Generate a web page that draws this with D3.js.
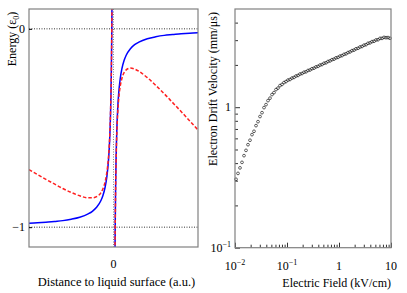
<!DOCTYPE html>
<html>
<head>
<meta charset="utf-8">
<script src="https://cdn.jsdelivr.net/npm/d3@7"></script>
<style>
  body { margin: 0; background: #fff; }
  text { font-family: "Liberation Serif", "Times New Roman", serif; fill: #000; }
</style>
</head>
<body>
<svg id="chart" width="407" height="293"></svg>
<script>
(function() {

// --- left panel: potential energy near the liquid surface
const distLiquid = [-1, -0.9, -0.8, -0.7, -0.6, -0.5, -0.4, -0.3, -0.25, -0.2, -0.15, -0.125,
  -0.1, -0.08, -0.06, -0.05, -0.04, -0.03, -0.025, -0.02, -0.016];
const blueLiquid = [-0.98, -0.978, -0.975, -0.971, -0.967, -0.96, -0.95, -0.933, -0.92, -0.9,
  -0.867, -0.84, -0.8, -0.75, -0.667, -0.6, -0.5, -0.333, -0.2, 0, 0.25];
const redLiquid = [-0.71, -0.735, -0.759, -0.782, -0.805, -0.825, -0.842, -0.852, -0.852, -0.846,
  -0.827, -0.806, -0.773, -0.728, -0.651, -0.587, -0.489, -0.325, -0.193, 0.005, 0.254];

const distGas = [0.016, 0.02, 0.025, 0.03, 0.04, 0.05, 0.06, 0.08, 0.1, 0.125, 0.15, 0.2, 0.25,
  0.3, 0.4, 0.5, 0.6, 0.7, 0.8, 0.9, 1.0];
const blueGas = [-1.25, -1.0, -0.8, -0.667, -0.5, -0.4, -0.333, -0.25, -0.2, -0.16, -0.133, -0.1,
  -0.08, -0.067, -0.05, -0.04, -0.033, -0.029, -0.025, -0.022, -0.02];
const redGas = [-1.258, -1.01, -0.812, -0.682, -0.52, -0.425, -0.362, -0.289, -0.249, -0.221,
  -0.207, -0.198, -0.203, -0.214, -0.246, -0.285, -0.327, -0.372, -0.417, -0.463, -0.51];

const energyTicks = [0, -1];

// --- right panel: drift velocity vs field
const fieldKV = [0.01045, 0.01142, 0.01248, 0.01363, 0.0149, 0.01628, 0.01778, 0.01943, 0.02123,
  0.0232, 0.02535, 0.0277, 0.03026, 0.03307, 0.03613, 0.03948, 0.04313, 0.04713, 0.05149, 0.05623,
  0.06146, 0.06715, 0.07337, 0.08016, 0.08758, 0.09567, 0.1045, 0.1142, 0.1248, 0.1363, 0.149,
  0.1628, 0.1778, 0.1943, 0.2123, 0.232, 0.2535, 0.277, 0.3026, 0.3307, 0.3613, 0.3948, 0.4313,
  0.4713, 0.5149, 0.5623, 0.6146, 0.6715, 0.7337, 0.8016, 0.8758, 0.9567, 1.045, 1.142, 1.248,
  1.363, 1.49, 1.628, 1.778, 1.943, 2.123, 2.32, 2.535, 2.77, 3.026, 3.307, 3.613, 3.948, 4.313,
  4.713, 5.149, 5.623, 6.146, 6.715, 7.337, 8.016, 8.758, 9.567];
const driftVel = [0.307, 0.338, 0.37, 0.405, 0.452, 0.493, 0.541, 0.582, 0.638, 0.674, 0.739, 0.789,
  0.858, 0.914, 0.993, 1.043, 1.114, 1.16, 1.23, 1.27, 1.335, 1.368, 1.425, 1.452, 1.497, 1.522,
  1.56, 1.574, 1.612, 1.628, 1.667, 1.682, 1.722, 1.736, 1.774, 1.786, 1.826, 1.84, 1.88, 1.896,
  1.936, 1.952, 1.995, 2.011, 2.055, 2.07, 2.116, 2.135, 2.18, 2.198, 2.245, 2.262, 2.31, 2.328,
  2.378, 2.398, 2.45, 2.474, 2.528, 2.549, 2.604, 2.625, 2.683, 2.704, 2.764, 2.785, 2.85, 2.87,
  2.93, 2.945, 3.01, 3.02, 3.09, 3.09, 3.14, 3.125, 3.13, 3.095];
const fieldTicks = [0.01, 0.1, 1, 10];
const fieldTickLabels = [["10", "\u22122"], ["10", "\u22121"], ["1", ""], ["10", ""]];
const velTicks = [0.1, 1];
const velTickLabels = [["10", "\u22121"], ["1", ""]];

const svg = d3.select('#chart');
const frameColor = '#808080';

// ================= left panel =================
const L = {left: 29, right: 198, top: 9, bottom: 247};
const xDist = d3.scaleLinear().domain([-1, 1]).range([L.left, L.right]);
const yEnergy = d3.scaleLinear().domain([-1.1, 0.1]).range([L.bottom, L.top]);

svg.append('clipPath').attr('id', 'clipL')
  .append('rect')
    .attr('x', L.left).attr('y', L.top)
    .attr('width', L.right - L.left).attr('height', L.bottom - L.top);

const left = svg.append('g');

// reference lines
energyTicks.forEach(e => {
  left.append('line')
    .attr('x1', L.left).attr('x2', L.right)
    .attr('y1', yEnergy(e)).attr('y2', yEnergy(e))
    .attr('stroke', '#000').attr('stroke-width', 0.8)
    .attr('stroke-dasharray', '1,1.5');
});
left.append('line')
  .attr('x1', xDist(0)).attr('x2', xDist(0))
  .attr('y1', L.top).attr('y2', L.bottom)
  .attr('stroke', '#666').attr('stroke-width', 0.8)
  .attr('stroke-dasharray', '1,1.5');

const line = d3.line()
  .x(d => xDist(d[0]))
  .y(d => yEnergy(d[1]))
  .curve(d3.curveMonotoneX);

const curves = left.append('g').attr('clip-path', 'url(#clipL)');
[[distLiquid, blueLiquid], [distGas, blueGas]].forEach(([xs, ys]) => {
  curves.append('path')
    .datum(xs.map((x, i) => [x, ys[i]]))
    .attr('d', line)
    .attr('fill', 'none')
    .attr('stroke', '#0000ff')
    .attr('stroke-width', 1.5);
});
[[distLiquid, redLiquid], [distGas, redGas]].forEach(([xs, ys]) => {
  curves.append('path')
    .datum(xs.map((x, i) => [x, ys[i]]))
    .attr('d', line)
    .attr('fill', 'none')
    .attr('stroke', '#ff2020')
    .attr('stroke-width', 1.5)
    .attr('stroke-dasharray', '3.5,2');
});

// frame
left.append('rect')
  .attr('x', L.left).attr('y', L.top)
  .attr('width', L.right - L.left).attr('height', L.bottom - L.top)
  .attr('fill', 'none').attr('stroke', frameColor).attr('stroke-width', 1.2);

left.append('g')
  .attr('transform', `translate(${L.left},0)`)
  .call(d3.axisLeft(yEnergy).tickValues(energyTicks).tickSize(-3).tickFormat(''))
  .call(g => g.select('.domain').remove())
  .call(g => g.selectAll('line').attr('stroke', '#000'));

energyTicks.forEach(e => {
  left.append('text')
    .attr('x', L.left - 4).attr('y', yEnergy(e) + 4)
    .attr('text-anchor', 'end')
    .style('font-size', '12px')
    .text(e === 0 ? '0' : '\u22121');
});
left.append('text')
  .attr('x', xDist(0)).attr('y', 268)
  .attr('text-anchor', 'middle')
  .style('font-size', '12px')
  .text('0');

left.append('text')
  .attr('x', (L.left + L.right) / 2 + 3).attr('y', 286)
  .attr('text-anchor', 'middle')
  .style('font-size', '12.5px')
  .text('Distance to liquid surface (a.u.)');

const eLabel = left.append('text')
  .attr('transform', 'translate(16,39) rotate(-90)')
  .attr('text-anchor', 'middle')
  .style('font-size', '12px');
eLabel.append('tspan').text('Energy (\u03b5');
eLabel.append('tspan').attr('dy', 3).style('font-size', '8px').text('0');
eLabel.append('tspan').attr('dy', -3).text(')');

// ================= right panel =================
const R = {left: 235, right: 391, top: 9, bottom: 247.7};
const xField = d3.scaleLog().domain([0.01, 10]).range([R.left, R.right]);
const yVel = d3.scaleLog().domain([0.1, 5]).range([R.bottom, R.top]);

const right = svg.append('g');

const minorX = [];
[0.01, 0.1, 1].forEach(d => { for (let m = 2; m <= 9; m++) minorX.push(d * m); });
const minorY = [];
[0.1, 1].forEach(d => { for (let m = 2; m <= 9; m++) if (d * m < 5) minorY.push(d * m); });

right.append('g')
  .attr('transform', `translate(0,${R.bottom})`)
  .call(d3.axisBottom(xField).tickValues(fieldTicks).tickSize(-5).tickFormat(''))
  .call(g => g.select('.domain').remove());
right.append('g')
  .attr('transform', `translate(0,${R.bottom})`)
  .call(d3.axisBottom(xField).tickValues(minorX).tickSize(-3).tickFormat(''))
  .call(g => g.select('.domain').remove());
right.append('g')
  .attr('transform', `translate(${R.left},0)`)
  .call(d3.axisLeft(yVel).tickValues(velTicks).tickSize(-5).tickFormat(''))
  .call(g => g.select('.domain').remove());
right.append('g')
  .attr('transform', `translate(${R.left},0)`)
  .call(d3.axisLeft(yVel).tickValues(minorY).tickSize(-3).tickFormat(''))
  .call(g => g.select('.domain').remove());
right.selectAll('.tick line').attr('stroke', '#333');

right.append('g')
  .selectAll('circle')
  .data(fieldKV.map((f, i) => [f, driftVel[i]]))
  .enter().append('circle')
    .attr('cx', d => xField(d[0]))
    .attr('cy', d => yVel(d[1]))
    .attr('r', 1.4)
    .attr('fill', 'none')
    .attr('stroke', '#000')
    .attr('stroke-width', 0.6);

right.append('rect')
  .attr('x', R.left).attr('y', R.top)
  .attr('width', R.right - R.left).attr('height', R.bottom - R.top)
  .attr('fill', 'none').attr('stroke', frameColor).attr('stroke-width', 1.2);

fieldTicks.forEach((t, i) => {
  const lbl = right.append('text')
    .attr('x', xField(t)).attr('y', 270)
    .attr('text-anchor', 'middle')
    .style('font-size', '12px');
  lbl.append('tspan').text(fieldTickLabels[i][0]);
  if (fieldTickLabels[i][1]) {
    lbl.append('tspan').attr('dy', -5).style('font-size', '8px').text(fieldTickLabels[i][1]);
  }
});
velTicks.forEach((t, i) => {
  const lbl = right.append('text')
    .attr('x', R.left - 4).attr('y', yVel(t) + 4)
    .attr('text-anchor', 'end')
    .style('font-size', '12px');
  lbl.append('tspan').text(velTickLabels[i][0]);
  if (velTickLabels[i][1]) {
    lbl.append('tspan').attr('dy', -5).style('font-size', '8px').text(velTickLabels[i][1]);
  }
});

right.append('text')
  .attr('x', R.right).attr('y', 287)
  .attr('text-anchor', 'end')
  .style('font-size', '12px')
  .text('Electric Field (kV/cm)');

right.append('text')
  .attr('transform', 'translate(217,89) rotate(-90)')
  .attr('text-anchor', 'middle')
  .style('font-size', '12px')
  .text('Electron Drift Velocity (mm/\u03bcs)');

})();
</script>
</body>
</html>
